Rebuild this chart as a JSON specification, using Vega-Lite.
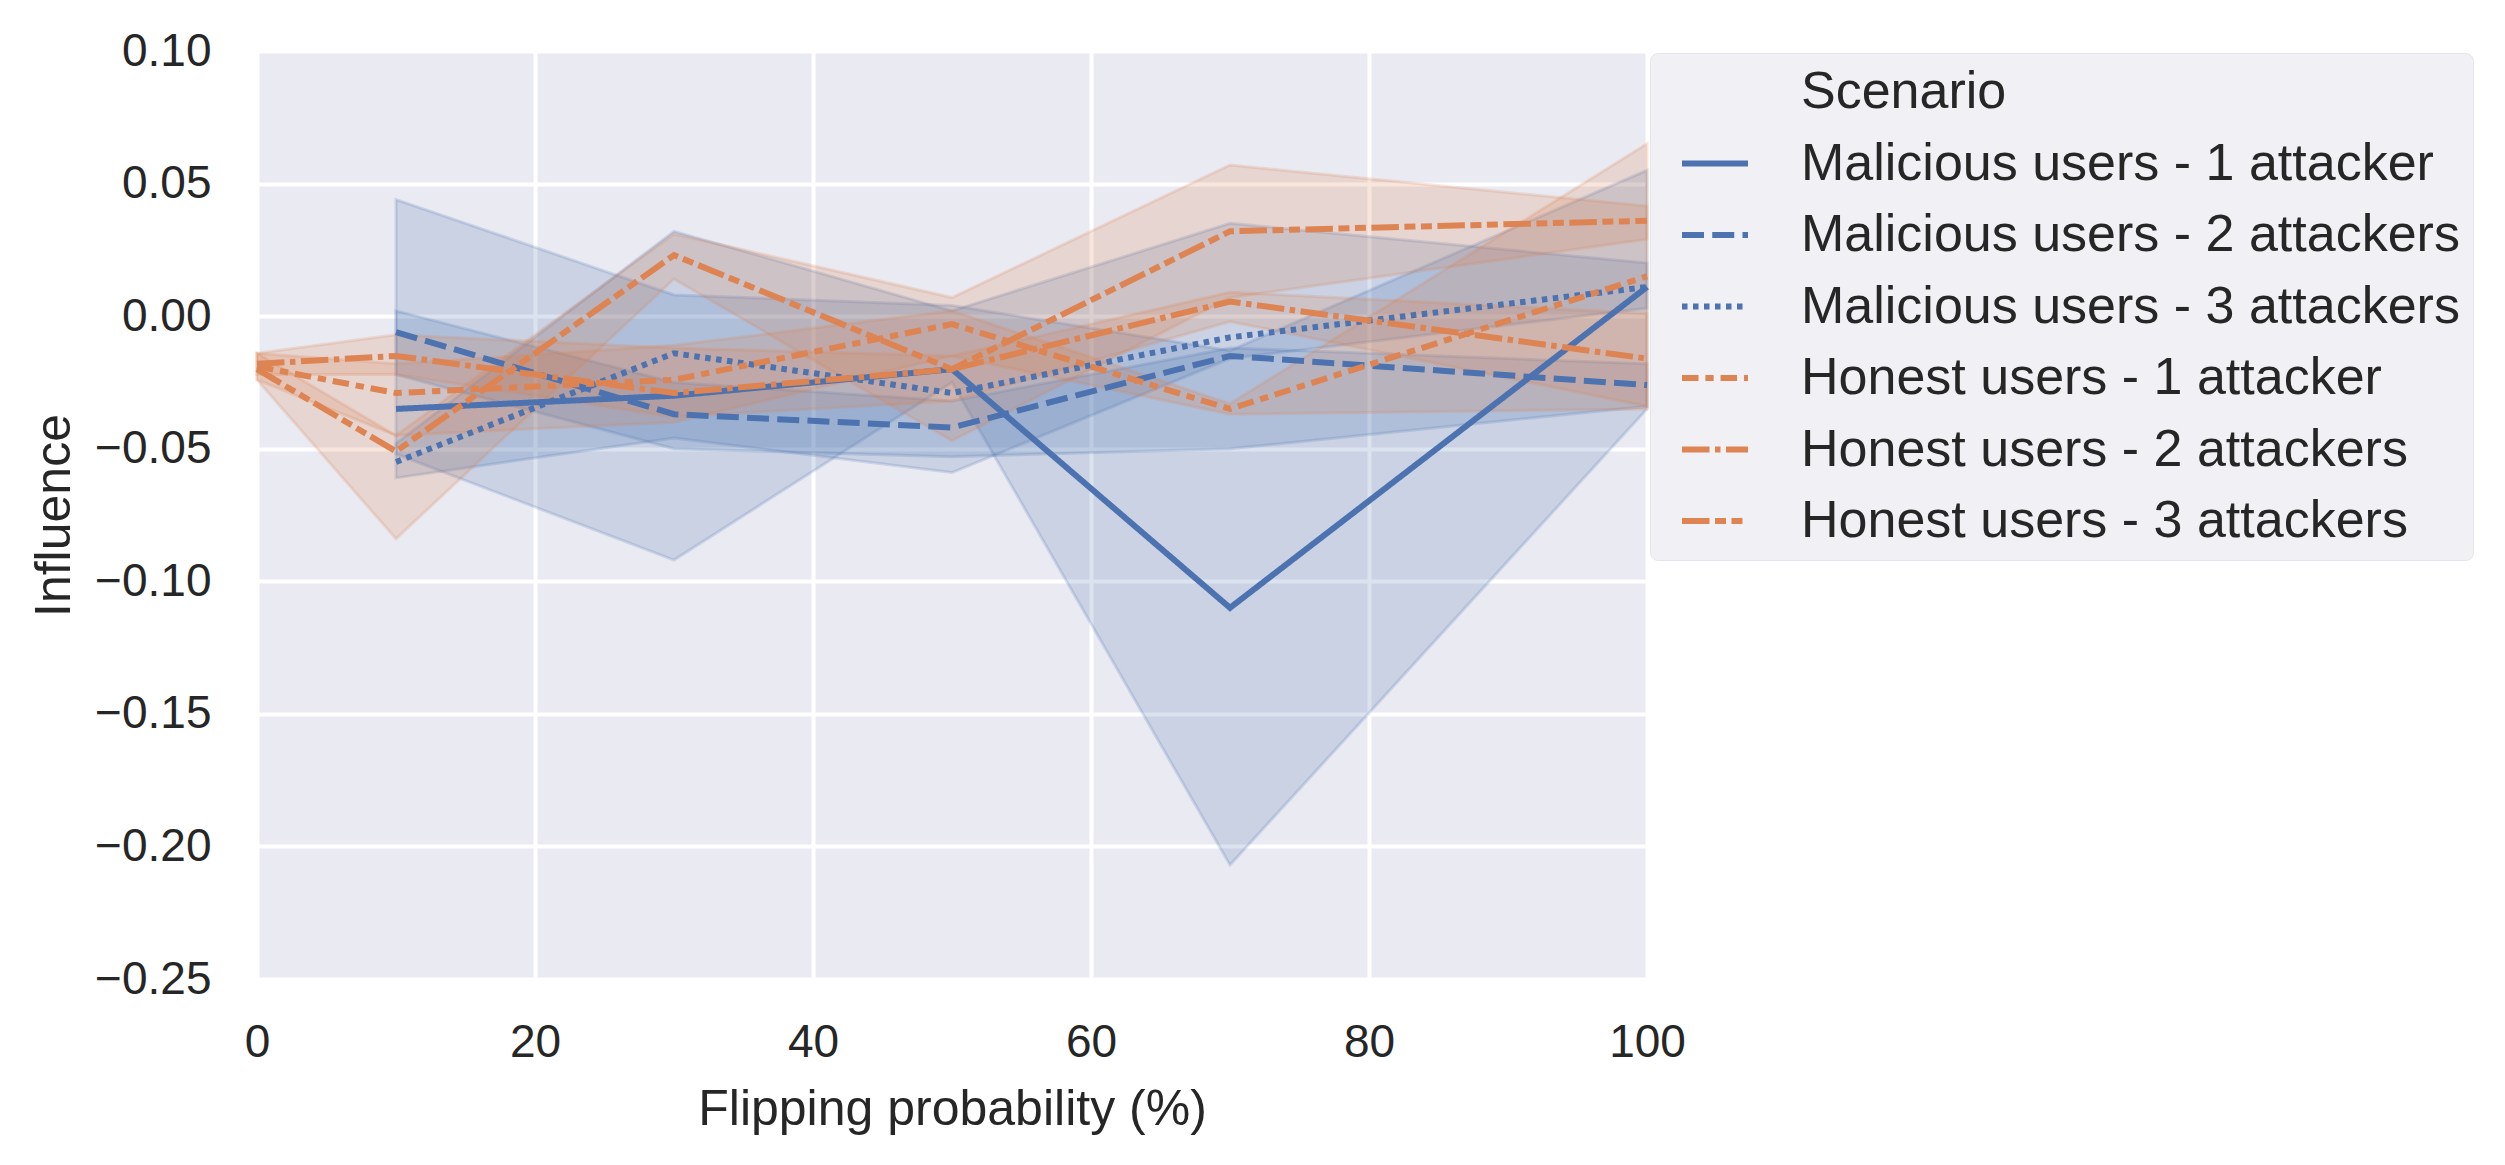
{
  "$schema": "https://vega.github.io/schema/vega-lite/v6.json",
  "description": "Influence vs flipping probability, seaborn-style line plot with 95% CI bands.",
  "autosize": "none",
  "width": 1390,
  "height": 928,
  "padding": {"left": 257, "top": 51, "right": 858, "bottom": 186},
  "background": "white",
  "data": {
    "values": [
      {"s": "Malicious users - 1 attacker", "x": 10, "y": -0.035, "lo": -0.052, "hi": 0.044},
      {"s": "Malicious users - 1 attacker", "x": 30, "y": -0.030, "lo": -0.092, "hi": 0.008},
      {"s": "Malicious users - 1 attacker", "x": 50, "y": -0.020, "lo": -0.025, "hi": 0.004},
      {"s": "Malicious users - 1 attacker", "x": 70, "y": -0.110, "lo": -0.207, "hi": -0.013},
      {"s": "Malicious users - 1 attacker", "x": 100, "y": 0.011, "lo": -0.035, "hi": 0.055},
      {"s": "Malicious users - 2 attackers", "x": 10, "y": -0.006, "lo": -0.022, "hi": 0.002},
      {"s": "Malicious users - 2 attackers", "x": 30, "y": -0.037, "lo": -0.050, "hi": -0.025},
      {"s": "Malicious users - 2 attackers", "x": 50, "y": -0.042, "lo": -0.053, "hi": -0.032},
      {"s": "Malicious users - 2 attackers", "x": 70, "y": -0.015, "lo": -0.050, "hi": -0.012},
      {"s": "Malicious users - 2 attackers", "x": 100, "y": -0.026, "lo": -0.034, "hi": -0.018},
      {"s": "Malicious users - 3 attackers", "x": 10, "y": -0.055, "lo": -0.061, "hi": -0.048},
      {"s": "Malicious users - 3 attackers", "x": 30, "y": -0.014, "lo": -0.046, "hi": 0.032},
      {"s": "Malicious users - 3 attackers", "x": 50, "y": -0.029, "lo": -0.059, "hi": 0.002},
      {"s": "Malicious users - 3 attackers", "x": 70, "y": -0.008, "lo": -0.016, "hi": 0.035},
      {"s": "Malicious users - 3 attackers", "x": 100, "y": 0.011, "lo": 0.003, "hi": 0.020},
      {"s": "Honest users - 1 attacker", "x": 0, "y": -0.019, "lo": -0.024, "hi": -0.014},
      {"s": "Honest users - 1 attacker", "x": 10, "y": -0.029, "lo": -0.045, "hi": -0.018},
      {"s": "Honest users - 1 attacker", "x": 30, "y": -0.024, "lo": -0.040, "hi": -0.011},
      {"s": "Honest users - 1 attacker", "x": 50, "y": -0.003, "lo": -0.015, "hi": 0.002},
      {"s": "Honest users - 1 attacker", "x": 70, "y": -0.035, "lo": -0.037, "hi": -0.033},
      {"s": "Honest users - 1 attacker", "x": 100, "y": 0.015, "lo": -0.035, "hi": 0.065},
      {"s": "Honest users - 2 attackers", "x": 0, "y": -0.018, "lo": -0.022, "hi": -0.014},
      {"s": "Honest users - 2 attackers", "x": 10, "y": -0.015, "lo": -0.022, "hi": -0.007},
      {"s": "Honest users - 2 attackers", "x": 30, "y": -0.029, "lo": -0.038, "hi": -0.012},
      {"s": "Honest users - 2 attackers", "x": 50, "y": -0.020, "lo": -0.032, "hi": -0.015},
      {"s": "Honest users - 2 attackers", "x": 70, "y": 0.0055, "lo": -0.002, "hi": 0.009},
      {"s": "Honest users - 2 attackers", "x": 100, "y": -0.016, "lo": -0.034, "hi": 0.001},
      {"s": "Honest users - 3 attackers", "x": 0, "y": -0.020, "lo": -0.024, "hi": -0.014},
      {"s": "Honest users - 3 attackers", "x": 10, "y": -0.051, "lo": -0.084, "hi": -0.045},
      {"s": "Honest users - 3 attackers", "x": 30, "y": 0.023, "lo": 0.014, "hi": 0.031},
      {"s": "Honest users - 3 attackers", "x": 50, "y": -0.020, "lo": -0.047, "hi": 0.007},
      {"s": "Honest users - 3 attackers", "x": 70, "y": 0.032, "lo": 0.007, "hi": 0.057},
      {"s": "Honest users - 3 attackers", "x": 100, "y": 0.036, "lo": 0.029, "hi": 0.0415}
    ]
  },
  "encoding": {
    "x": {
      "field": "x", "type": "quantitative", "title": "Flipping probability (%)",
      "scale": {"domain": [0, 100], "nice": false, "zero": false},
      "axis": {"values": [0, 20, 40, 60, 80, 100], "format": "d"}
    }
  },
  "layer": [
    {
      "mark": {"type": "area", "fillOpacity": 0.2, "strokeOpacity": 0.2, "strokeWidth": 3},
      "encoding": {
        "y": {
          "field": "lo", "type": "quantitative", "title": "Influence",
          "scale": {"domain": [-0.25, 0.1], "nice": false, "zero": false},
          "axis": {"values": [-0.25, -0.2, -0.15, -0.1, -0.05, 0, 0.05, 0.1], "format": ".2f"}
        },
        "y2": {"field": "hi"},
        "fill": {
          "field": "s", "type": "nominal", "legend": null,
          "scale": {
            "domain": ["Malicious users - 1 attacker", "Malicious users - 2 attackers", "Malicious users - 3 attackers", "Honest users - 1 attacker", "Honest users - 2 attackers", "Honest users - 3 attackers"],
            "range": ["#4C72B0", "#4C72B0", "#4C72B0", "#DD8452", "#DD8452", "#DD8452"]
          }
        },
        "stroke": {
          "field": "s", "type": "nominal", "legend": null,
          "scale": {
            "domain": ["Malicious users - 1 attacker", "Malicious users - 2 attackers", "Malicious users - 3 attackers", "Honest users - 1 attacker", "Honest users - 2 attackers", "Honest users - 3 attackers"],
            "range": ["#4C72B0", "#4C72B0", "#4C72B0", "#DD8452", "#DD8452", "#DD8452"]
          }
        }
      }
    },
    {
      "mark": {"type": "line", "strokeWidth": 6},
      "encoding": {
        "y": {"field": "y", "type": "quantitative"},
        "color": {
          "field": "s", "type": "nominal",
          "scale": {
            "domain": ["Scenario", "Malicious users - 1 attacker", "Malicious users - 2 attackers", "Malicious users - 3 attackers", "Honest users - 1 attacker", "Honest users - 2 attackers", "Honest users - 3 attackers"],
            "range": ["rgba(0,0,0,0)", "#4C72B0", "#4C72B0", "#4C72B0", "#DD8452", "#DD8452", "#DD8452"]
          },
          "legend": {
            "title": null,
            "orient": "none",
            "legendX": 1393,
            "legendY": 2,
            "padding": 13,
            "fillColor": "#F0F0F5",
            "strokeColor": "#E4E4EA",
            "cornerRadius": 8,
            "symbolType": "stroke",
            "symbolSize": 4356,
            "symbolStrokeWidth": 6,
            "symbolOffset": 16,
            "labelOffset": 50,
            "labelFontSize": 52,
            "labelFont": "Liberation Sans",
            "labelColor": "#262626",
            "labelLimit": 1000,
            "clipHeight": 52,
            "rowPadding": 19.5
          }
        },
        "strokeDash": {
          "field": "s", "type": "nominal",
          "scale": {
            "domain": ["Scenario", "Malicious users - 1 attacker", "Malicious users - 2 attackers", "Malicious users - 3 attackers", "Honest users - 1 attacker", "Honest users - 2 attackers", "Honest users - 3 attackers"],
            "range": [[1, 0], [1, 0], [22, 8.25], [5.5, 5.5], [16.5, 6.9, 8.25, 6.9], [27.5, 5.5, 5.5, 5.5], [27.5, 5.5, 11, 5.5, 11, 5.5]]
          }
        }
      }
    }
  ],
  "config": {
    "view": {"fill": "#EAEAF2", "stroke": null},
    "font": "Liberation Sans",
    "axis": {
      "domain": false,
      "ticks": false,
      "tickSize": 0,
      "grid": true,
      "gridColor": "#FFFFFF",
      "gridWidth": 4,
      "labelFont": "Liberation Sans",
      "labelFontSize": 46,
      "labelColor": "#262626",
      "labelPadding": 46,
      "titleFont": "Liberation Sans",
      "titleFontSize": 50,
      "titleFontWeight": "normal",
      "titleColor": "#262626"
    },
    "axisX": {"titlePadding": 19, "labelPadding": 41, "labelFlush": false},
    "axisY": {"titlePadding": 15}
  }
}
